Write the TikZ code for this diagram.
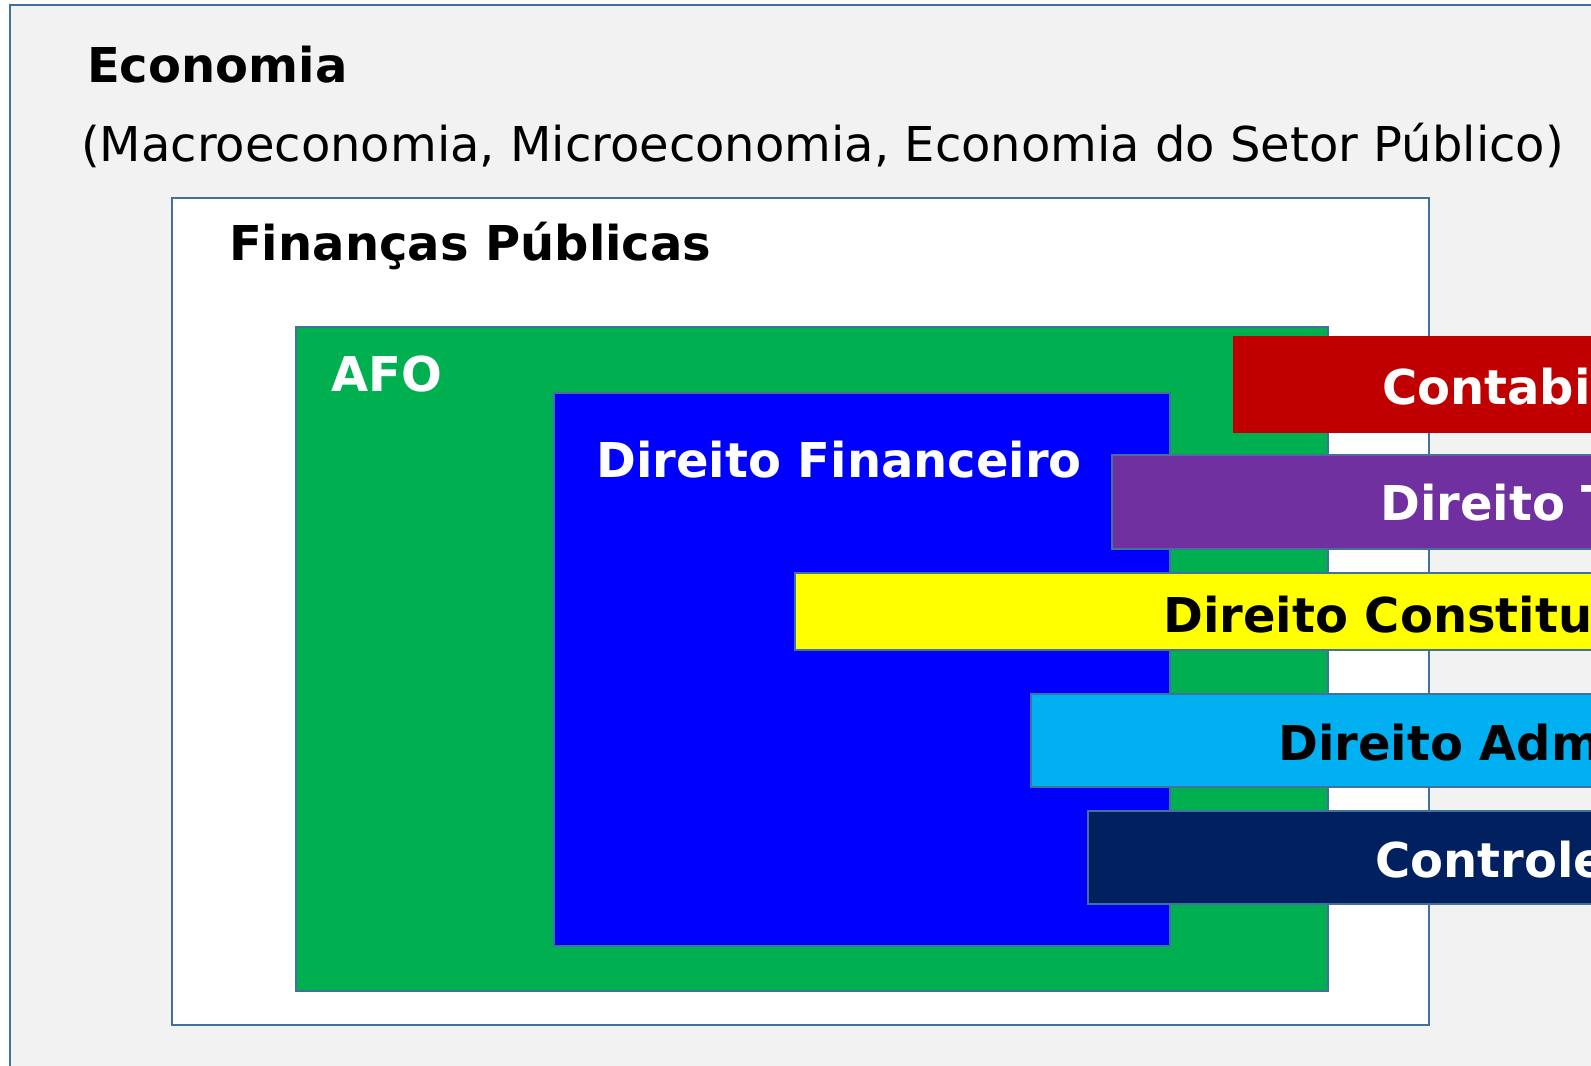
\documentclass[tikz,border=0pt]{standalone}
\usepackage{fontspec}
\setmainfont{DejaVu Sans}
\usetikzlibrary{calc}
\definecolor{edgeblue}{RGB}{65,113,156}
\definecolor{paleback}{RGB}{242,242,242}
\definecolor{afogreen}{RGB}{0,176,80}
\definecolor{dirblue}{RGB}{0,0,255}
\definecolor{contred}{RGB}{192,0,0}
\definecolor{tribpurple}{RGB}{112,48,160}
\definecolor{constyellow}{RGB}{255,255,0}
\definecolor{admcyan}{RGB}{0,176,240}
\definecolor{ctrlnavy}{RGB}{0,32,96}
\newcommand\BigFont{\fontsize{48}{58}\selectfont}

\begin{document}
\begin{tikzpicture}[x=1pt,y=-1pt,
  box/.style={draw=edgeblue,line width=2.2pt},
  lbl/.style={anchor=base west,inner sep=0pt,font=\BigFont\bfseries}]

% one unit is one pixel of the 1591 x 1066 picture, y runs downwards
\useasboundingbox (0,0) rectangle (1591,1066);
\clip (0,0) rectangle (1591,1066);

% nested areas, the bars on the right run past the edge
\filldraw[box,fill=paleback] (10,5) rectangle (1640,1100);
\filldraw[box,fill=white] (172,198) rectangle (1429,1025);
\filldraw[box,fill=afogreen] (296,327) rectangle (1328,991);
\filldraw[box,fill=dirblue] (554,393) rectangle (1170,946);
\fill[contred] (1233,336) rectangle (1640,433);
\filldraw[box,fill=tribpurple] (1112,455) rectangle (1640,549);
\filldraw[box,fill=constyellow] (795,573) rectangle (1640,650);
\filldraw[box,fill=admcyan] (1031,694) rectangle (1640,787);
\filldraw[box,fill=ctrlnavy] (1088,811) rectangle (1640,904);

% texts
\node[lbl] (eco) at (87,82) {Economia};
\node[lbl,font=\BigFont] (ecosub) at (81,161)
  {(Macroeconomia, Microeconomia, Economia do Setor Público)};
\node[lbl] (fin) at (229,260) {Finanças Públicas};
\node[lbl,white] (afo) at (331,391) {AFO};
\node[lbl,white] (dirfin) at (596,477) {Direito Financeiro};
\node[lbl,white] (cont) at (1382,404) {Contabilidade};
\node[lbl,white] (trib) at (1380,520) {Direito Tributário};
\node[lbl] (const) at (1163,632) {Direito Constitucional};
\node[lbl] (adm) at (1278,760) {Direito Administrativo};
\node[lbl,white] (ctrl) at (1375,877) {Controle};
\end{tikzpicture}
\end{document}
